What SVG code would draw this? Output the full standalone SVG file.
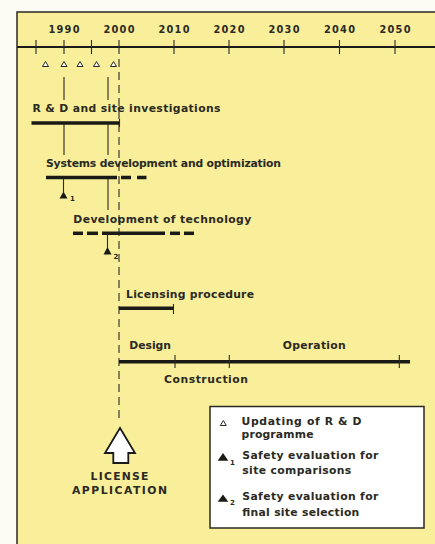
<svg xmlns="http://www.w3.org/2000/svg" width="435" height="544" viewBox="0 0 435 544">
<style>
.t{font-family:"DejaVu Sans","Liberation Sans",sans-serif;font-weight:bold;font-size:10.8px;fill:#2a2a22}
.y{font-family:"DejaVu Sans","Liberation Sans",sans-serif;font-weight:bold;font-size:9.8px;fill:#2a2a22;text-anchor:middle}
.s{font-family:"DejaVu Sans","Liberation Sans",sans-serif;font-weight:bold;font-size:7px;fill:#2a2a22}
.bar{stroke:#1a1a16;stroke-width:3.5;fill:none}
.thin{stroke:#2a2a22;stroke-width:1.1;fill:none}
.dash{stroke:#2a2a22;stroke-width:1.1;stroke-dasharray:8,5;fill:none}
.ot{fill:#fff;stroke:#2a2a22;stroke-width:1}
.ft{fill:#1a1a16}
</style>
<rect x="0" y="0" width="435" height="544" fill="#fdfcf4"/>
<rect x="17" y="12" width="420" height="534" fill="#f9ee9a" stroke="#2a2a22" stroke-width="1.5"/>
<g id="axis">
<line x1="17" y1="47" x2="435" y2="47" stroke="#1a1a16" stroke-width="1.8"/>
<g class="thin">
<line x1="36" y1="40" x2="36" y2="54"/><line x1="64" y1="40" x2="64" y2="54"/><line x1="91.5" y1="40" x2="91.5" y2="54"/><line x1="119" y1="40" x2="119" y2="54"/><line x1="174" y1="40" x2="174" y2="54"/><line x1="229" y1="40" x2="229" y2="54"/><line x1="284" y1="40" x2="284" y2="54"/><line x1="339.5" y1="40" x2="339.5" y2="54"/><line x1="395" y1="40" x2="395" y2="54"/>
</g>
<text class="y" x="64" y="33" textLength="31">1990</text>
<text class="y" x="119" y="33" textLength="31">2000</text>
<text class="y" x="174" y="33" textLength="31">2010</text>
<text class="y" x="229" y="33" textLength="31">2020</text>
<text class="y" x="284" y="33" textLength="31">2030</text>
<text class="y" x="339.5" y="33" textLength="31">2040</text>
<text class="y" x="395" y="33" textLength="31">2050</text>
</g>
<g id="updates">
<polygon class="ot" points="45.5,61.5 48.5,66.5 42.5,66.5"/>
<polygon class="ot" points="64,61.5 67,66.5 61,66.5"/>
<polygon class="ot" points="80,61.5 83,66.5 77,66.5"/>
<polygon class="ot" points="96.5,61.5 99.5,66.5 93.5,66.5"/>
<polygon class="ot" points="113.5,61.5 116.5,66.5 110.5,66.5"/>
</g>
<g id="connectors">
<line class="dash" x1="119" y1="59" x2="119" y2="422"/>
<line class="thin" x1="64" y1="77" x2="64" y2="100"/>
<line class="thin" x1="108" y1="77" x2="108" y2="100"/>
<line class="thin" x1="64" y1="123" x2="64" y2="155"/>
<line class="thin" x1="108" y1="123" x2="108" y2="155"/>
<line class="thin" x1="108" y1="178" x2="108" y2="210"/>
<line class="thin" x1="63.5" y1="178" x2="63.5" y2="192"/>
<line class="thin" x1="107.5" y1="233" x2="107.5" y2="248"/>
</g>
<g id="rd">
<text class="t" x="32.5" y="111.5" textLength="188">R &amp; D and site investigations</text>
<line class="bar" x1="31.5" y1="123" x2="119.5" y2="123"/>
<line class="thin" x1="119.5" y1="119" x2="119.5" y2="127"/>
</g>
<g id="systems">
<text class="t" x="46" y="166.5" textLength="235">Systems development and optimization</text>
<line class="bar" x1="46" y1="177.5" x2="117" y2="177.5"/>
<line class="bar" x1="121" y1="177.5" x2="131" y2="177.5"/>
<line class="bar" x1="137" y1="177.5" x2="146.5" y2="177.5"/>
<polygon class="ft" points="63.5,191.5 67.5,198.5 59.5,198.5"/>
<text class="s" x="70" y="201">1</text>
</g>
<g id="technology">
<text class="t" x="73.3" y="223" textLength="178">Development of technology</text>
<line class="bar" x1="73" y1="233.3" x2="83" y2="233.3"/>
<line class="bar" x1="87" y1="233.3" x2="98" y2="233.3"/>
<line class="bar" x1="102" y1="233.3" x2="165" y2="233.3"/>
<line class="bar" x1="170" y1="233.3" x2="180" y2="233.3"/>
<line class="bar" x1="184" y1="233.3" x2="194" y2="233.3"/>
<polygon class="ft" points="107.5,247 111.5,254.5 103.5,254.5"/>
<text class="s" x="113.5" y="258.5">2</text>
</g>
<g id="licensing">
<text class="t" x="126" y="298" textLength="128">Licensing procedure</text>
<line class="bar" x1="119" y1="308.3" x2="173.5" y2="308.3"/>
<line class="thin" x1="173.5" y1="304" x2="173.5" y2="314"/>
</g>
<g id="construction">
<text class="t" x="129.3" y="349.3" textLength="41.7">Design</text>
<text class="t" x="282.7" y="349.3" textLength="63">Operation</text>
<text class="t" x="164" y="382.7" textLength="84">Construction</text>
<line class="bar" x1="119" y1="361.7" x2="410" y2="361.7"/>
<line class="thin" x1="175" y1="355" x2="175" y2="368"/>
<line class="thin" x1="229.3" y1="355" x2="229.3" y2="368"/>
<line class="thin" x1="399.3" y1="355" x2="399.3" y2="368"/>
</g>
<g id="application">
<polygon points="120,428 135,453 128.3,453 128.3,463 113.3,463 113.3,453 105,453" fill="#fff" stroke="#1a1a16" stroke-width="1.8" stroke-linejoin="miter"/>
<text class="t" x="119.5" y="479.5" text-anchor="middle" textLength="58">LICENSE</text>
<text class="t" x="119.5" y="494" text-anchor="middle" textLength="95">APPLICATION</text>
</g>
<g id="legend">
<rect x="210" y="406.5" width="214" height="121.5" fill="#fff" stroke="#2a2a22" stroke-width="1.5"/>
<polygon class="ot" points="223.3,420.5 226.3,425.5 220.3,425.5"/>
<text class="t" x="241.5" y="425" textLength="120">Updating of R &amp; D</text>
<text class="t" x="241.5" y="437.5" textLength="72">programme</text>
<polygon class="ft" points="223,453 228.3,460.7 217.7,460.7"/>
<text class="s" x="230" y="464.5">1</text>
<text class="t" x="242.3" y="458.5" textLength="136">Safety evaluation for</text>
<text class="t" x="242.3" y="474" textLength="109">site comparisons</text>
<polygon class="ft" points="223,494.5 228.3,501.7 217.7,501.7"/>
<text class="s" x="230" y="505">2</text>
<text class="t" x="242.3" y="500" textLength="136">Safety evaluation for</text>
<text class="t" x="242.3" y="515.7" textLength="117">final site selection</text>
</g>
</svg>
